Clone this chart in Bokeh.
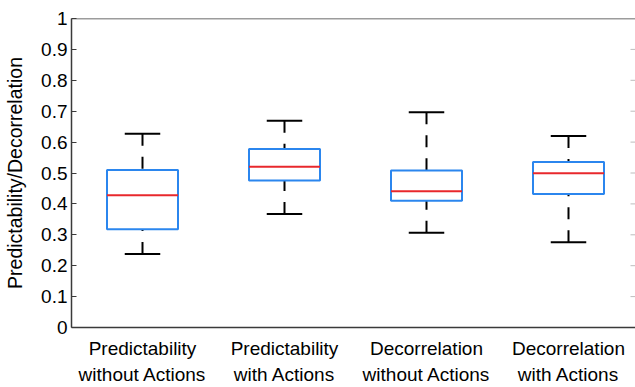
from bokeh.plotting import figure
from bokeh.models import FixedTicker, ColumnDataSource, Range1d, Span
from bokeh.embed import file_html
from bokeh.resources import INLINE

# Box-plot summaries for each condition
categories = ["Predictability\nwithout Actions", "Predictability\nwith Actions",
              "Decorrelation\nwithout Actions", "Decorrelation\nwith Actions"]
positions = [1, 2, 3, 4]
lower_whisker = [0.238, 0.367, 0.307, 0.276]
q1 = [0.318, 0.476, 0.410, 0.432]
median = [0.428, 0.520, 0.441, 0.499]
q3 = [0.510, 0.578, 0.508, 0.536]
upper_whisker = [0.627, 0.669, 0.697, 0.620]

y_ticks = [0, 0.1, 0.2, 0.3, 0.4, 0.5, 0.6, 0.7, 0.8, 0.9, 1]
y_tick_labels = ["0", "0.1", "0.2", "0.3", "0.4", "0.5", "0.6", "0.7", "0.8", "0.9", "1"]

W, H = 635, 387
LEFT = 71                      # width of the left border (axis + labels)
PX_PER_UNIT = 142              # horizontal spacing between groups, px
X_START = 0.5
X_END = X_START + (W - LEFT) / PX_PER_UNIT
BOX_W = 0.5
CAP_W = 0.25
TICK_LEN = 5
FONT = "Liberation Sans"
AXIS_COLOR = "#3a3a3a"

src = ColumnDataSource(dict(
    x=positions, lo=lower_whisker, q1=q1, med=median, q3=q3, hi=upper_whisker,
    left=[v - BOX_W / 2 for v in positions], right=[v + BOX_W / 2 for v in positions],
    cl=[v - CAP_W / 2 for v in positions], cr=[v + CAP_W / 2 for v in positions],
))

p = figure(width=W, height=H, output_backend="svg", toolbar_location=None,
           x_range=Range1d(X_START, X_END), y_range=Range1d(0, 1),
           min_border_left=LEFT, min_border_right=0, min_border_top=18,
           min_border_bottom=0)
p.outline_line_color = None
p.xgrid.visible = False
p.ygrid.visible = False
p.background_fill_color = "white"
p.border_fill_color = "white"

# dashed whiskers, drawn from the caps toward the box
p.segment(x0="x", y0="hi", x1="x", y1="q3", source=src, line_color="black",
          line_width=2, line_dash="12 11")
p.segment(x0="x", y0="lo", x1="x", y1="q1", source=src, line_color="black",
          line_width=2, line_dash="12 11")
# whisker caps
p.segment(x0="cl", y0="hi", x1="cr", y1="hi", source=src, line_color="black", line_width=2)
p.segment(x0="cl", y0="lo", x1="cr", y1="lo", source=src, line_color="black", line_width=2)
# boxes and medians
p.quad(left="left", right="right", bottom="q1", top="q3", source=src,
       fill_color="white", line_color="#2b86ee", line_width=2)
p.segment(x0="left", y0="med", x1="right", y1="med", source=src,
          line_color="#e8282c", line_width=2)

# top frame line
p.add_layout(Span(location=1, dimension="width", line_color=AXIS_COLOR, line_width=1.5))

# faint inward ticks along the right edge
tick_src = ColumnDataSource(dict(y=y_ticks[1:-1]))
p.segment(x0=X_END, y0="y", x1=X_END - TICK_LEN / PX_PER_UNIT, y1="y",
          source=tick_src, line_color="#bdbdbd", line_width=1)

# y axis (ticks inward)
ya = p.yaxis[0]
ya.ticker = FixedTicker(ticks=y_ticks)
ya.major_label_overrides = {t: s for t, s in zip(y_ticks, y_tick_labels)}
ya.major_tick_in = TICK_LEN
ya.major_tick_out = 0
ya.minor_tick_line_color = None
ya.axis_line_color = AXIS_COLOR
ya.axis_line_width = 1.5
ya.major_tick_line_color = AXIS_COLOR
ya.major_label_text_font = FONT
ya.major_label_text_font_size = "19px"
ya.major_label_text_color = "black"
ya.major_label_standoff = 4
ya.axis_label = "Predictability/Decorrelation"
ya.axis_label_text_font = FONT
ya.axis_label_text_font_size = "19.5px"
ya.axis_label_text_font_style = "normal"
ya.axis_label_text_color = "black"
ya.axis_label_standoff = 12

# x axis with two-line category labels
xa = p.xaxis[0]
xa.ticker = FixedTicker(ticks=positions)
xa.major_label_overrides = {t: s for t, s in zip(positions, categories)}
xa.major_tick_in = 0
xa.major_tick_out = 0
xa.minor_tick_line_color = None
xa.axis_line_color = AXIS_COLOR
xa.axis_line_width = 1.5
xa.major_label_text_font = FONT
xa.major_label_text_font_size = "19px"
xa.major_label_text_color = "black"
xa.major_label_text_line_height = 1.26
xa.major_label_standoff = 10

open("out.html", "w").write(file_html(p, INLINE))
